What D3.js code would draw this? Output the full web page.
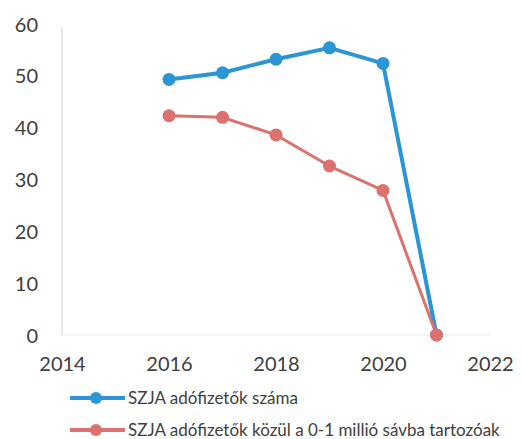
<!DOCTYPE html>
<html>
<head>
<meta charset="utf-8">
<script src="https://cdn.jsdelivr.net/npm/d3@7"></script>
<style>
  body { margin: 0; background: #fff; }
  text { font-family: Lato, "Open Sans", sans-serif; fill: #404040; }
</style>
</head>
<body>
<div id="chart"></div>
<script>
'use strict';

var years = [2016, 2017, 2018, 2019, 2020, 2021]
var payers = [49.3, 50.6, 53.2, 55.4, 52.4, 0]
var lowBand = [42.3, 42.0, 38.6, 32.6, 27.9, 0]
var seriesNames = ['SZJA adófizetők száma', 'SZJA adófizetők közül a 0-1 millió sávba tartozóak']
var xTicks = [2014, 2016, 2018, 2020, 2022]
var yTicks = [0, 10, 20, 30, 40, 50, 60]

var colors = ['#2b95d6', '#dc716f']

var svg = d3.select('#chart').append('svg').attr('width', 521).attr('height', 439)
var margin = {top: 24, right: 31, bottom: 104, left: 62}
var width = 521 - margin.left - margin.right
var height = 439 - margin.top - margin.bottom

var x = d3.scaleLinear().domain([2014, 2022]).range([0, width])
var y = d3.scaleLinear().domain([0, 60]).range([height, 0])

var g = svg.append('g').attr('transform', 'translate(' + margin.left + ',' + margin.top + ')')

// faint horizontal base
g.append('line')
  .attr('x1', 0).attr('x2', width)
  .attr('y1', y(0)).attr('y2', y(0))
  .style('stroke', '#f0f0f0').style('stroke-width', 1.5)

// y axis line
g.append('line')
  .attr('x1', 0).attr('x2', 0)
  .attr('y1', y(60) + 3).attr('y2', y(0))
  .style('stroke', '#e2e2e2').style('stroke-width', 1.5)

g.append('g')
  .call(d3.axisLeft(y).tickValues(yTicks).tickSize(0).tickPadding(24))
  .call(function(a) { a.select('.domain').remove() })
  .selectAll('text')
  .style('font-size', '20px').style('fill', '#404040')
  .style('font-family', 'Lato, sans-serif')
  .attr('dy', '0.35em')

g.append('g')
  .attr('transform', 'translate(0,' + height + ')')
  .call(d3.axisBottom(x).tickValues(xTicks).tickFormat(d3.format('d')).tickSize(0).tickPadding(22))
  .call(function(a) { a.select('.domain').remove() })
  .selectAll('text')
  .style('font-size', '20px').style('fill', '#404040')
  .style('font-family', 'Lato, sans-serif')

var data = [payers, lowBand]
var line = d3.line().x(function(d, i) { return x(years[i]) }).y(function(d) { return y(d) })

data.forEach(function(vals, k) {
  g.append('path')
    .datum(vals)
    .attr('d', line)
    .style('fill', 'none')
    .style('stroke', colors[k])
    .style('stroke-width', k === 0 ? 4 : 3)
    .style('stroke-linejoin', 'round')
})

data.forEach(function(vals, k) {
  g.selectAll('.dot' + k)
    .data(vals)
    .enter().append('circle')
    .attr('class', 'dot' + k)
    .attr('cx', function(d, i) { return x(years[i]) })
    .attr('cy', function(d) { return y(d) })
    .attr('r', 6.5)
    .style('fill', colors[k])
})

// legend
var legend = svg.append('g')
seriesNames.forEach(function(name, k) {
  var ly = 398 + k * 32
  legend.append('line')
    .attr('x1', 70).attr('x2', 125).attr('y1', ly).attr('y2', ly)
    .style('stroke', colors[k]).style('stroke-width', 4)
  legend.append('circle')
    .attr('cx', 96).attr('cy', ly).attr('r', 6)
    .style('fill', colors[k])
  legend.append('text')
    .attr('x', 128).attr('y', ly).attr('dy', '0.35em')
    .style('font-size', '17px')
    .text(name)
})
</script>
</body>
</html>
